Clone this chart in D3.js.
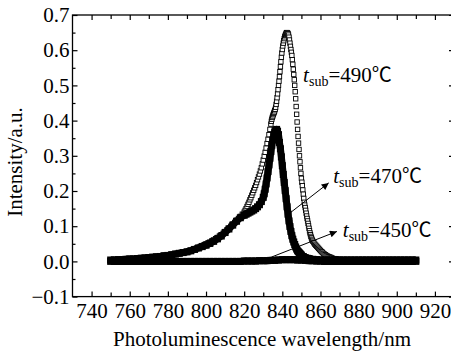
<!DOCTYPE html>
<html>
<head>
<meta charset="utf-8">
<title>PL spectra</title>
<script src="https://cdn.jsdelivr.net/npm/d3@7/dist/d3.min.js"></script>
<style>
body { margin: 0; background: #fff; }
svg text { font-family: "Liberation Serif", "Times New Roman", serif; fill: #000; }
.tick text { font-size: 21px; }
</style>
</head>
<body>
<svg width="451" height="351" id="chart"></svg>
<script>
var xTicks = [740, 760, 780, 800, 820, 840, 860, 880, 900, 920];
var yTicks = [-0.1, 0, 0.1, 0.2, 0.3, 0.4, 0.5, 0.6, 0.7];

// t_sub = 490 C, open squares
var pts490 = [
  [750,0.003],[751,0.003],[752,0.003],[753,0.004],[754,0.004],[755,0.004],[756,0.004],[757,0.005],
  [758,0.005],[759,0.005],[760,0.006],[761,0.006],[762,0.006],[763,0.007],[764,0.007],[765,0.008],
  [766,0.008],[767,0.009],[768,0.009],[769,0.010],[770,0.010],[771,0.0105],[772,0.011],[773,0.0115],
  [774,0.012],[775,0.013],[776,0.014],[777,0.0145],[778,0.015],[779,0.016],[780,0.017],[781,0.018],
  [782,0.019],[783,0.020],[784,0.021],[785,0.022],[786,0.023],[787,0.0245],[788,0.026],[789,0.0275],
  [790,0.029],[791,0.0305],[792,0.032],[793,0.034],[794,0.036],[795,0.038],[796,0.040],[797,0.0425],
  [798,0.045],[799,0.0475],[800,0.050],[801,0.0525],[802,0.055],[803,0.058],[804,0.061],[805,0.0645],
  [806,0.068],[807,0.072],[808,0.076],[809,0.080],[810,0.085],[811,0.090],[812,0.095],[813,0.100],
  [814,0.106],[815,0.111],[816,0.117],[817,0.122],[818,0.128],[819,0.134],[820,0.140],[820.5,0.145],
  [821,0.150],[821.5,0.156],[822,0.162],[822.5,0.168],[823,0.175],[823.5,0.181],[824,0.188],
  [824.5,0.195],[825,0.202],[825.5,0.209],[826,0.216],[826.5,0.224],[827,0.232],[827.5,0.240],
  [828,0.248],[828.5,0.257],[829,0.266],[829.5,0.277],[830,0.288],[830.5,0.299],[831,0.310],
  [831.5,0.322],[832,0.335],[832.5,0.347],[833,0.360],[833.5,0.375],[834,0.390],[834.25,0.398],
  [834.5,0.404],[834.75,0.409],[835,0.413],[835.25,0.417],[835.5,0.421],[835.75,0.424],[836,0.428],
  [836.25,0.432],[836.5,0.438],[836.75,0.446],[837,0.455],[837.25,0.465],[837.5,0.476],[837.75,0.488],
  [838,0.500],[838.25,0.512],[838.5,0.525],[838.75,0.539],[839,0.553],[839.25,0.567],[839.5,0.580],
  [839.75,0.592],[840,0.602],[840.25,0.612],[840.5,0.620],[840.75,0.627],[841,0.633],[841.25,0.638],
  [841.5,0.642],[841.75,0.645],[842,0.648],[842.25,0.650],[842.5,0.650],[842.75,0.649],[843,0.647],
  [843.25,0.643],[843.5,0.637],[843.75,0.629],[844,0.620],[844.25,0.611],[844.5,0.602],[844.75,0.594],
  [845,0.585],[845.25,0.573],[845.5,0.560],[845.75,0.546],[846,0.531],[846.25,0.516],[846.5,0.500],
  [846.75,0.482],[847,0.462],[847.25,0.440],[847.5,0.418],[847.75,0.396],[848,0.375],[848.25,0.355],
  [848.5,0.336],[848.75,0.318],[849,0.300],[849.25,0.283],[849.5,0.266],[849.75,0.250],[850,0.236],
  [850.25,0.225],[850.5,0.215],[850.75,0.203],[851,0.191],[851.25,0.179],[851.5,0.168],[851.75,0.160],
  [852,0.153],[852.25,0.145],[852.5,0.137],[852.75,0.129],[853,0.122],[853.25,0.115],[853.5,0.108],
  [853.75,0.101],[854,0.094],[854.25,0.087],[854.5,0.081],[854.75,0.076],[855,0.071],[855.25,0.067],
  [855.5,0.063],[855.75,0.060],[856,0.057],[856.5,0.053],[857,0.049],[857.5,0.046],[858,0.043],
  [858.5,0.040],[859,0.037],[859.5,0.034],[860,0.031],[860.5,0.028],[861,0.026],[861.5,0.023],
  [862,0.021],[862.5,0.019],[863,0.017],[863.5,0.0155],[864,0.014],[864.5,0.013],[865,0.012],
  [865.5,0.011],[866,0.010],[867,0.008],[868,0.007],[869,0.006],[870,0.005],[871,0.005],[872,0.004],
  [873,0.004],[874,0.004],[875,0.004],[876,0.004],[877,0.004],[878,0.004],[879,0.004],[880,0.003],
  [881,0.003],[882,0.003],[883,0.003],[884,0.003],[885,0.003],[886,0.003],[887,0.003],[888,0.003],
  [889,0.003],[890,0.003],[891,0.003],[892,0.003],[893,0.003],[894,0.003],[895,0.003],[896,0.003],
  [897,0.003],[898,0.003],[899,0.003],[900,0.003],[901,0.003],[902,0.003],[903,0.003],[904,0.004],
  [905,0.003],[906,0.003],[907,0.003],[908,0.003],[909,0.003],[910,0.003]
];

// t_sub = 470 C, filled squares
var pts470 = [
  [750,0.004],[752,0.004],[754,0.005],[756,0.005],[758,0.006],[760,0.007],[762,0.007],[764,0.008],
  [766,0.009],[768,0.010],[770,0.011],[772,0.012],[774,0.013],[776,0.014],[778,0.016],[780,0.017],
  [782,0.019],[784,0.021],[786,0.023],[788,0.025],[790,0.027],[792,0.030],[794,0.034],[796,0.038],
  [798,0.042],[800,0.046],[802,0.051],[804,0.057],[806,0.064],[808,0.072],[810,0.082],[812,0.092],
  [814,0.103],[816,0.114],[818,0.124],[820,0.131],[821,0.134],[822,0.137],[823,0.140],[824,0.143],
  [825,0.146],[826,0.150],[827,0.155],[828,0.161],[829,0.170],[830,0.182],[830.5,0.192],[831,0.205],
  [831.5,0.220],[832,0.237],[832.5,0.255],[833,0.274],[833.5,0.293],[834,0.312],[834.5,0.330],
  [835,0.345],[835.5,0.358],[836,0.367],[836.5,0.373],[837,0.375],[837.5,0.370],[838,0.360],
  [838.5,0.338],[839,0.320],[839.5,0.297],[840,0.272],[840.5,0.247],[841,0.224],[841.5,0.201],
  [842,0.178],[842.5,0.155],[843,0.134],[843.5,0.115],[844,0.099],[844.5,0.085],[845,0.073],
  [845.5,0.063],[846,0.055],[846.5,0.048],[847,0.041],[847.5,0.035],[848,0.030],[848.5,0.027],
  [849,0.024],[849.5,0.021],[850,0.018],[851,0.014],[852,0.011],[853,0.009],[854,0.008],[856,0.006],
  [858,0.005],[860,0.004],[862,0.004],[864,0.004],[866,0.004],[868,0.004],[870,0.004],[872,0.004],
  [874,0.004],[876,0.004],[878,0.004],[880,0.004],[882,0.004],[884,0.004],[886,0.004],[888,0.004],
  [890,0.004],[892,0.004],[894,0.004],[896,0.004],[898,0.004],[900,0.004],[902,0.004],[904,0.004],
  [906,0.004],[908,0.004],[910,0.004]
];

// t_sub = 450 C, filled squares (almost flat)
var pts450 = [
  [750,0.000],[752,0.000],[754,0.000],[756,0.000],[758,0.000],[760,0.000],[762,0.000],[764,0.000],
  [766,0.000],[768,0.000],[770,0.000],[772,0.000],[774,0.000],[776,0.000],[778,0.000],[780,0.000],
  [782,0.000],[784,0.000],[786,0.000],[788,0.000],[790,0.000],[792,0.000],[794,0.000],[796,0.000],
  [798,0.000],[800,0.000],[802,0.000],[804,0.000],[806,0.000],[808,0.000],[810,0.000],[812,0.000],
  [814,0.000],[816,0.000],[818,0.000],[820,0.001],[822,0.001],[824,0.001],[826,0.001],[828,0.002],
  [830,0.002],[832,0.002],[834,0.003],[836,0.003],[838,0.004],[840,0.005],[842,0.005],[844,0.005],
  [846,0.005],[848,0.004],[850,0.004],[852,0.003],[854,0.002],[856,0.002],[858,0.001],[860,0.001],
  [862,0.000],[864,0.000],[866,0.000],[868,0.000],[870,0.000],[872,0.000],[874,0.000],[876,0.000],
  [878,0.000],[880,0.000],[882,0.000],[884,0.000],[886,0.000],[888,0.000],[890,0.000],[892,0.000],
  [894,0.000],[896,0.000],[898,0.000],[900,0.000],[902,0.000],[904,0.000],[906,0.000],[908,0.000],
  [910,0.000]
];

var labels = [
  { temp: "490", x: 850.9, y: 0.511 },
  { temp: "470", x: 866.7, y: 0.223 },
  { temp: "450", x: 871.7, y: 0.069 }
];
var arrows = [
  { from: [844.0, 0.1375], to: [864.3, 0.223] },
  { from: [834.4, 0.0125], to: [868.6, 0.085] }
];

var svg = d3.select("#chart");
var mLeft = 72.5, mRight = 454, mTop = 15, mBottom = 296.6;

var x = d3.scaleLinear().domain([730, 930]).range([mLeft, mRight]);
var y = d3.scaleLinear().domain([-0.1, 0.7]).range([mBottom, mTop]);

var xMinor = d3.range(750, 931, 20);
var yMinor = [-0.05, 0.05, 0.15, 0.25, 0.35, 0.45, 0.55, 0.65];

function fmtY(d) {
  var s = d3.format(".1f")(d);
  return s.replace("-", "\u2212");
}

function noDomain(g) { g.select(".domain").remove(); }

// bottom axis with labels
svg.append("g").attr("transform", "translate(0," + mBottom + ")")
  .call(d3.axisBottom(x).tickValues(xTicks).tickFormat(d3.format("d"))
    .tickSizeInner(-5).tickSizeOuter(0).tickPadding(6.5))
  .call(noDomain);
svg.append("g").attr("transform", "translate(0," + mBottom + ")")
  .call(d3.axisBottom(x).tickValues(xMinor).tickFormat("").tickSizeInner(-4).tickSizeOuter(0))
  .call(noDomain);

// top axis ticks
svg.append("g").attr("transform", "translate(0," + mTop + ")")
  .call(d3.axisTop(x).tickValues(xTicks).tickFormat("").tickSizeInner(-5).tickSizeOuter(0))
  .call(noDomain);
svg.append("g").attr("transform", "translate(0," + mTop + ")")
  .call(d3.axisTop(x).tickValues(xMinor).tickFormat("").tickSizeInner(-4).tickSizeOuter(0))
  .call(noDomain);

// left axis with labels
svg.append("g").attr("transform", "translate(" + mLeft + ",0)")
  .call(d3.axisLeft(y).tickValues(yTicks).tickFormat(fmtY)
    .tickSizeInner(-5).tickSizeOuter(0).tickPadding(3))
  .call(noDomain);
svg.append("g").attr("transform", "translate(" + mLeft + ",0)")
  .call(d3.axisLeft(y).tickValues(yMinor).tickFormat("").tickSizeInner(-3).tickSizeOuter(0))
  .call(noDomain);

// right axis ticks
svg.append("g").attr("transform", "translate(" + mRight + ",0)")
  .call(d3.axisRight(y).tickValues(yTicks).tickFormat("").tickSizeInner(-5).tickSizeOuter(0))
  .call(noDomain);
svg.append("g").attr("transform", "translate(" + mRight + ",0)")
  .call(d3.axisRight(y).tickValues(yMinor).tickFormat("").tickSizeInner(-3).tickSizeOuter(0))
  .call(noDomain);

svg.selectAll(".tick line").attr("stroke", "#000").attr("stroke-width", 1.2);

// frame
svg.append("rect")
  .attr("x", mLeft).attr("y", mTop)
  .attr("width", mRight - mLeft).attr("height", mBottom - mTop)
  .attr("fill", "none").attr("stroke", "#000").attr("stroke-width", 1.3);

// series
var s1 = 4.4, s2 = 7;
var line = d3.line()
  .x(function(d) { return x(d[0]); })
  .y(function(d) { return y(d[1]); });

svg.append("g").selectAll("rect").data(pts490).enter().append("rect")
  .attr("x", function(d) { return x(d[0]) - s1 / 2; })
  .attr("y", function(d) { return y(d[1]) - s1 / 2; })
  .attr("width", s1).attr("height", s1)
  .attr("fill", "#fff").attr("stroke", "#000").attr("stroke-width", 0.9);

[pts470, pts450].forEach(function(pts) {
  svg.append("path").datum(pts)
    .attr("fill", "none").attr("stroke", "#000")
    .attr("stroke-width", s2).attr("stroke-linejoin", "round")
    .attr("d", line);
  svg.append("g").selectAll("rect").data(pts).enter().append("rect")
    .attr("x", function(d) { return x(d[0]) - s2 / 2; })
    .attr("y", function(d) { return y(d[1]) - s2 / 2; })
    .attr("width", s2).attr("height", s2)
    .attr("fill", "#000");
});

// arrows
svg.append("defs").append("marker")
  .attr("id", "head").attr("viewBox", "0 0 10 10")
  .attr("refX", 10).attr("refY", 5)
  .attr("markerWidth", 10).attr("markerHeight", 7)
  .attr("markerUnits", "userSpaceOnUse")
  .attr("orient", "auto")
  .append("path").attr("d", "M0,0L10,5L0,10Z").attr("fill", "#000");

svg.append("g").selectAll("line").data(arrows).enter().append("line")
  .attr("x1", function(d) { return x(d.from[0]); })
  .attr("y1", function(d) { return y(d.from[1]); })
  .attr("x2", function(d) { return x(d.to[0]); })
  .attr("y2", function(d) { return y(d.to[1]); })
  .attr("stroke", "#000").attr("stroke-width", 1)
  .attr("marker-end", "url(#head)");

// annotations
var ann = svg.append("g").selectAll("text").data(labels).enter().append("text")
  .attr("x", function(d) { return x(d.x); })
  .attr("y", function(d) { return y(d.y); })
  .style("font-size", "21px");
ann.append("tspan").style("font-style", "italic").text("t");
ann.append("tspan").style("font-size", "14px").attr("dy", 4).text("sub");
ann.append("tspan").attr("dy", -4).text(function(d) { return "=" + d.temp; });
ann.append("tspan").style("font-family", "'Noto Sans CJK SC', 'DejaVu Sans', sans-serif")
  .style("font-size", "20px").text("\u2103");

// axis titles
svg.append("text")
  .attr("x", 262).attr("y", 346)
  .attr("text-anchor", "middle").style("font-size", "21px")
  .text("Photoluminescence wavelength/nm");

svg.append("text")
  .attr("transform", "translate(22,162) rotate(-90)")
  .attr("text-anchor", "middle").style("font-size", "21px")
  .text("Intensity/a.u.");
</script>
</body>
</html>
